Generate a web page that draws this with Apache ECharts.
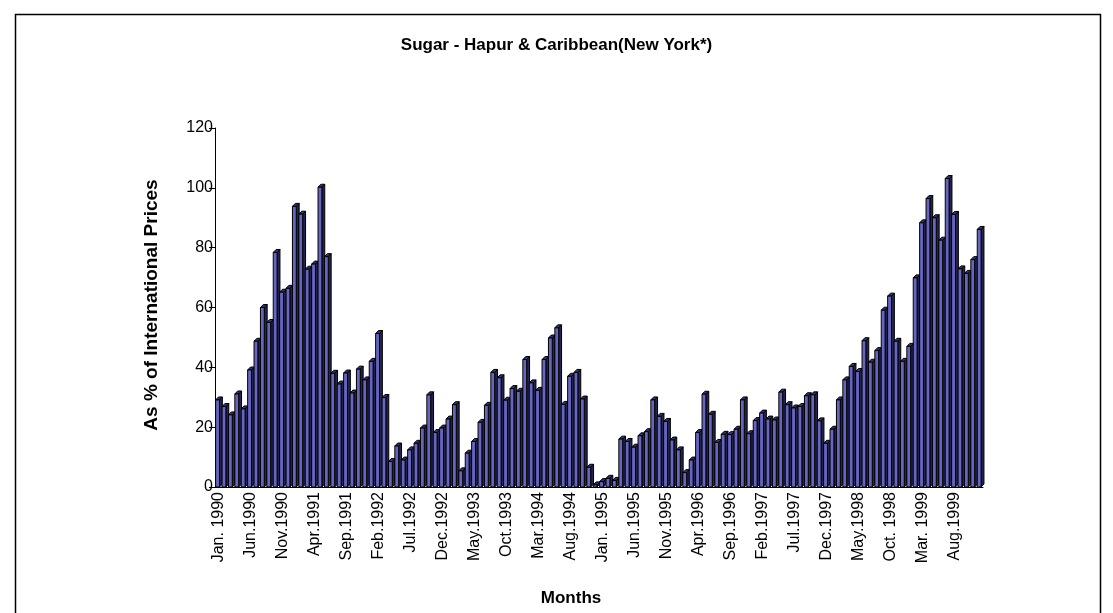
<!DOCTYPE html>
<html>
<head>
<meta charset="utf-8">
<script src="https://cdn.jsdelivr.net/npm/echarts@6/dist/echarts.min.js"></script>
<style>
  html, body { margin: 0; padding: 0; background: #fff; }
  #chart { width: 1113px; height: 613px; }
</style>
</head>
<body>
<div id="chart"></div>
<script>
// monthly series, Jan 1990 .. Dec 1999
const years = [1990, 1991, 1992, 1993, 1994, 1995, 1996, 1997, 1998, 1999];
const monthNames = ['Jan.', 'Feb.', 'Mar.', 'Apr.', 'May.', 'Jun.', 'Jul.', 'Aug.', 'Sep.', 'Oct.', 'Nov.', 'Dec.'];

// labels as printed under every 5th bar
const tickLabels = [
  'Jan. 1990', 'Jun.1990', 'Nov.1990', 'Apr.1991', 'Sep.1991', 'Feb.1992',
  'Jul.1992', 'Dec.1992', 'May.1993', 'Oct.1993', 'Mar.1994', 'Aug.1994',
  'Jan. 1995', 'Jun.1995', 'Nov.1995', 'Apr.1996', 'Sep.1996', 'Feb.1997',
  'Jul.1997', 'Dec.1997', 'May.1998', 'Oct. 1998', 'Mar. 1999', 'Aug.1999'
];

const values1990 = [29.1, 26.9, 24.1, 31.1, 26.1, 39.1, 48.7, 60.0, 55.0, 78.4, 65.1, 66.4];
const values1991 = [93.8, 91.2, 72.8, 74.5, 100.2, 77.0, 38.0, 34.4, 38.1, 31.4, 39.4, 35.8];
const values1992 = [42.0, 51.3, 29.9, 8.5, 13.7, 9.0, 12.4, 14.6, 19.7, 30.8, 18.2, 19.7];
const values1993 = [22.7, 27.5, 5.4, 11.3, 15.2, 21.6, 27.3, 38.3, 36.5, 29.0, 32.9, 32.0];
const values1994 = [42.6, 34.8, 32.3, 42.6, 49.8, 53.2, 27.6, 37.0, 38.3, 29.4, 6.6, 0.7];
const values1995 = [1.8, 2.9, 2.2, 16.0, 15.2, 13.3, 17.1, 18.5, 29.1, 23.6, 21.9, 15.7];
const values1996 = [12.4, 4.8, 9.0, 18.2, 31.0, 24.3, 14.9, 17.6, 17.5, 19.3, 29.1, 17.8];
const values1997 = [22.2, 24.7, 22.7, 22.4, 31.7, 27.5, 26.4, 26.9, 30.5, 30.8, 22.1, 14.6];
const values1998 = [19.3, 29.1, 35.8, 40.3, 38.6, 48.9, 41.7, 45.6, 59.1, 63.8, 48.7, 42.0];
const values1999 = [47.0, 69.9, 88.3, 96.4, 90.0, 82.5, 103.1, 91.1, 72.9, 71.4, 76.0, 86.1];

const yTicks = [0, 20, 40, 60, 80, 100, 120];

let months = [];
for (let y of years) {
  for (let m of monthNames) {
    months.push(m + y);
  }
}
const values = [].concat(values1990, values1991, values1992, values1993, values1994,
  values1995, values1996, values1997, values1998, values1999);

const FONT = '"Liberation Sans", Arial, sans-serif';

// 3d looking column: front face, top and right side
function renderBar(params, api) {
  let idx = api.value(0);
  let val = api.value(1);
  let base = api.coord([idx, 0]);
  let top = api.coord([idx, val]);
  let band = api.size([1, 0])[0];
  let w = band * 0.6;
  let dx = band * 0.45;
  let dy = 3;
  let x0 = base[0] - band / 2 + band * 0.1;
  let x1 = x0 + w;
  let yb = base[1];
  let yt = top[1];
  let stroke = { stroke: '#000', lineWidth: 1 };
  return {
    type: 'group',
    children: [
      {
        type: 'polygon',
        shape: { points: [[x1, yt], [x1 + dx, yt - dy], [x1 + dx, yb - dy], [x1, yb]] },
        style: Object.assign({ fill: '#24244f' }, stroke)
      },
      {
        type: 'polygon',
        shape: { points: [[x0, yt], [x0 + dx, yt - dy], [x1 + dx, yt - dy], [x1, yt]] },
        style: Object.assign({ fill: '#33336e' }, stroke)
      },
      {
        type: 'rect',
        shape: { x: x0, y: yt, width: w, height: yb - yt },
        style: Object.assign({ fill: '#6666c0' }, stroke)
      }
    ]
  };
}

const chart = echarts.init(document.getElementById('chart'), null, { renderer: 'canvas' });

const option = {
  animation: false,
  backgroundColor: '#fff',
  grid: { left: 215, top: 128, width: 768, height: 359, containLabel: false },
  xAxis: {
    type: 'category',
    data: months,
    axisLine: { show: true, lineStyle: { color: '#000', width: 1 } },
    axisTick: { show: false },
    axisLabel: {
      interval: 0,
      rotate: 90,
      color: '#000',
      fontFamily: FONT,
      fontSize: 16,
      margin: 5,
      formatter: function (val, i) {
        return i % 5 === 0 ? tickLabels[i / 5] : '';
      }
    },
    splitLine: { show: false }
  },
  yAxis: {
    type: 'value',
    min: yTicks[0],
    max: yTicks[yTicks.length - 1],
    interval: 20,
    axisLine: { show: true, lineStyle: { color: '#000', width: 1 } },
    axisTick: { show: true, inside: false, length: 6, lineStyle: { color: '#000' } },
    axisLabel: { color: '#000', fontFamily: FONT, fontSize: 16, margin: 2 },
    splitLine: { show: false }
  },
  series: [{
    type: 'custom',
    renderItem: renderBar,
    encode: { x: 0, y: 1 },
    data: values.map((v, i) => [i, v])
  }],
  graphic: [
    {
      type: 'rect',
      left: 13, top: 12,
      shape: { width: 1085, height: 620 },
      style: { fill: 'none', stroke: '#000', lineWidth: 1.5 },
      silent: true
    },
    {
      type: 'text',
      left: 'center', top: 37,
      style: { text: 'Sugar - Hapur & Caribbean(New York*)', font: 'bold 17px ' + FONT, fill: '#000' }
    },
    {
      type: 'text',
      x: 152, y: 305,
      rotation: Math.PI / 2,
      style: {
        text: 'As % of International Prices', font: 'bold 19px ' + FONT, fill: '#000',
        align: 'center', verticalAlign: 'middle'
      }
    },
    {
      type: 'text',
      x: 571, y: 598,
      style: { text: 'Months', font: 'bold 17px ' + FONT, fill: '#000', align: 'center', verticalAlign: 'middle' }
    }
  ]
};

chart.setOption(option);
</script>
</body>
</html>
